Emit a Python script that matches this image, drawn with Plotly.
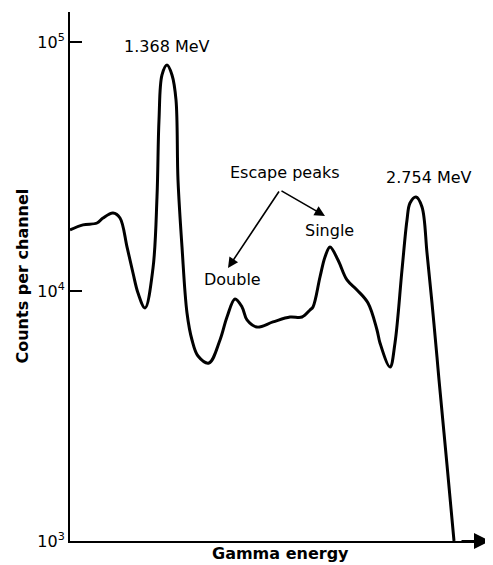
import plotly.graph_objects as go

# Channel (arbitrary gamma-energy scale) and counts per channel
channel = [0, 13, 27, 33, 43, 50, 57, 63, 68, 75, 83, 87, 89, 92, 97, 102, 106, 108,
           112, 117, 122, 128, 139, 150, 157, 165, 172, 177, 187, 203, 220, 232, 240, 243,
           250, 255, 260, 268, 277, 287, 298, 307, 310, 320, 325, 332, 337, 340, 346, 352,
           357, 362, 367, 369, 377, 384]
counts = [17640, 18480, 18810, 19700, 20640, 19700, 15080, 11860, 9860, 8590, 12400,
          23930, 48690, 73760, 80870, 73760, 58570, 27980, 15080, 8200, 6390, 5510, 5170,
          6390, 7900, 9330, 8670, 7690, 7200, 7550, 7900, 7900, 8430, 8670, 11430, 13750,
          15080, 13370, 11120, 10140, 8990, 7010, 6220, 4980, 6220, 12200, 19350, 22630,
          23930, 21820, 14270, 8990, 5460, 4420, 2020, 1000]

y_tickvals = [1e3, 1e4, 1e5]
y_ticktext = ["10<sup>3</sup>", "10<sup>4</sup>", "10<sup>5</sup>"]

FONT = "DejaVu Sans"

fig = go.Figure()
fig.add_trace(go.Scatter(
    x=channel, y=counts, mode="lines",
    line=dict(color="black", width=3, shape="spline", smoothing=1.0),
    hoverinfo="skip", showlegend=False,
))

txt = dict(family=FONT, size=16, color="black")
annotations = [
    dict(x=97, y=4.98, xref="x", yref="y", text="1.368 MeV", showarrow=False, font=txt),
    dict(x=215, y=4.475, xref="x", yref="y", text="Escape peaks", showarrow=False, font=txt),
    dict(x=359, y=4.455, xref="x", yref="y", text="2.754 MeV", showarrow=False, font=txt),
    dict(x=259, y=4.2425, xref="x", yref="y", text="Single", showarrow=False, font=txt),
    dict(x=162, y=4.046, xref="x", yref="y", text="Double", showarrow=False, font=txt),
    # arrows
    dict(x=158, y=4.094, xref="x", yref="y", ax=52, ay=-78, text="", showarrow=True,
         arrowhead=2, arrowsize=1.3, arrowwidth=1.6, arrowcolor="black", standoff=0),
    dict(x=255, y=4.3026, xref="x", yref="y", ax=-45, ay=-26, text="", showarrow=True,
         arrowhead=2, arrowsize=1.3, arrowwidth=1.6, arrowcolor="black", standoff=0),
    # x axis arrow head
    dict(x=1.0, y=0, xref="paper", yref="paper", ax=-30, ay=0, text="", showarrow=True,
         arrowhead=2, arrowsize=1.6, arrowwidth=2, arrowcolor="black", standoff=0),
    # axis titles
    dict(x=0.5, y=0, xref="paper", yref="paper", yanchor="top", yshift=-1,
         text="<b>Gamma energy</b>", showarrow=False, font=txt),
    dict(x=0, y=0.5, xref="paper", yref="paper", xanchor="center", yanchor="middle",
         xshift=-48, textangle=-90,
         text="<b>Counts per channel</b>", showarrow=False, font=txt),
]

fig.update_layout(
    width=493, height=565,
    margin=dict(l=62, r=11, t=4, b=32),
    paper_bgcolor="white", plot_bgcolor="white",
    showlegend=False,
    annotations=annotations,
    xaxis=dict(range=[0, 420], showline=True, linecolor="black", linewidth=2,
               showticklabels=False, ticks="", showgrid=False, zeroline=False,
               fixedrange=True),
    yaxis=dict(type="log", range=[3, 5.12], showline=True, linecolor="black",
               linewidth=2, tickvals=y_tickvals, ticktext=y_ticktext,
               ticks="inside", ticklen=12, tickwidth=2, tickcolor="black",
               tickfont=dict(family=FONT, size=16, color="black"),
               showgrid=False, zeroline=False, fixedrange=True),
)

fig.write_html("out.html")
